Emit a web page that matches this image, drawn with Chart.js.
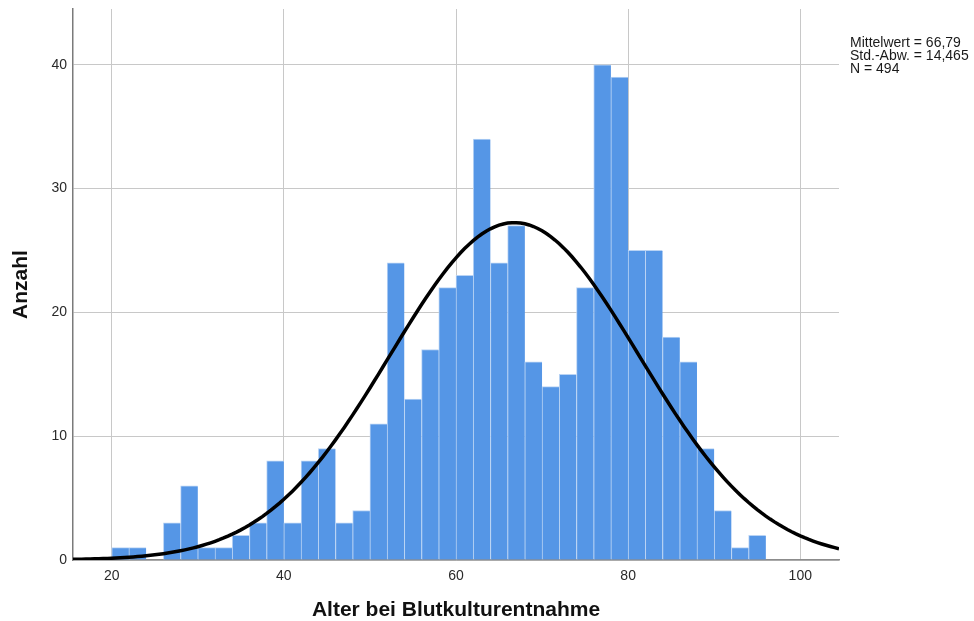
<!DOCTYPE html>
<html>
<head>
<meta charset="utf-8">
<script src="https://cdn.jsdelivr.net/npm/chart.js@4"></script>
<style>
  html, body { margin: 0; padding: 0; background: #fff; }
  #wrap { width: 974px; height: 621px; }
</style>
</head>
<body>
<div id="wrap"><canvas id="c" width="974" height="621"></canvas></div>
<script>
// Age bins (lower edge, years) and patient counts per bin
const binStarts = [20, 22, 24, 26, 28, 30, 32, 34, 36, 38, 40, 42, 44, 46, 48, 50, 52, 54, 56, 58,
                   60, 62, 64, 66, 68, 70, 72, 74, 76, 78, 80, 82, 84, 86, 88, 90, 92, 94];
const counts    = [1, 1, 0, 3, 6, 1, 1, 2, 3, 8, 3, 8, 9, 3, 4, 11, 24, 13, 17, 22,
                   23, 34, 24, 27, 16, 14, 15, 22, 40, 39, 25, 25, 18, 16, 9, 4, 1, 2];
const binWidth = 2;

// Summary statistics shown next to the plot
const meanAge = 66.79;
const sdAge = 14.465;
const nTotal = 494;
const statLines = ['Mittelwert = 66,79', 'Std.-Abw. = 14,465', 'N = 494'];

// Axis ticks and range
const xTicks = [20, 40, 60, 80, 100];
const yTicks = [0, 10, 20, 30, 40];
const xMin = 15.5, xMax = 104.5;
const yMax = 44.5;

const barData = binStarts.map((s, i) => ({ x: s + binWidth / 2, y: counts[i] }));

// Fitted normal curve scaled to counts per bin
const curveData = [];
for (let x = xMin; x <= xMax + 1e-9; x += 0.5) {
  const z = (x - meanAge) / sdAge;
  const y = nTotal * binWidth / (sdAge * Math.sqrt(2 * Math.PI)) * Math.exp(-0.5 * z * z);
  curveData.push({ x: x, y: y });
}

const FONT = '"Liberation Sans", Arial, Helvetica, sans-serif';

const statsText = {
  id: 'statsText',
  afterDraw(chart) {
    const ctx = chart.ctx;
    ctx.save();
    ctx.font = '14px ' + FONT;
    ctx.fillStyle = '#1a1a1a';
    ctx.textAlign = 'left';
    ctx.textBaseline = 'middle';
    statLines.forEach((t, i) => ctx.fillText(t, 850, 43.5 + i * 12.8));
    ctx.restore();
  }
};

new Chart(document.getElementById('c'), {
  type: 'bar',
  data: {
    datasets: [
      {
        type: 'line',
        data: curveData,
        borderColor: '#000',
        borderWidth: 3.5,
        pointRadius: 0,
        tension: 0,
        fill: false,
        order: 0
      },
      {
        type: 'bar',
        data: barData,
        backgroundColor: '#5596e6',
        borderColor: '#b9d3f4',
        borderWidth: { left: 1, top: 1, right: 0, bottom: 0 },
        borderSkipped: false,
        barPercentage: 1,
        categoryPercentage: 1,
        order: 1
      }
    ]
  },
  options: {
    responsive: false,
    animation: false,
    devicePixelRatio: 1,
    layout: { padding: { left: 0, right: 135, top: 9, bottom: 0 } },
    plugins: { legend: { display: false }, tooltip: { enabled: false } },
    scales: {
      x: {
        type: 'linear',
        min: xMin,
        max: xMax,
        offset: false,
        afterFit(scale) { scale.height = 61; },
        afterBuildTicks(scale) { scale.ticks = xTicks.map(v => ({ value: v })); },
        grid: { color: '#c8c8c8', lineWidth: 1, drawTicks: false, offset: false },
        border: { color: '#8c8c8c', width: 1.5 },
        ticks: {
          padding: 8,
          color: '#2a2a2a',
          font: { family: FONT, size: 14 },
          maxRotation: 0
        },
        title: {
          display: true,
          text: 'Alter bei Blutkulturentnahme',
          color: '#111',
          font: { family: FONT, size: 21, weight: 'bold', lineHeight: 1 },
          padding: { top: 0, bottom: 0 }
        }
      },
      y: {
        min: 0,
        max: yMax,
        afterFit(scale) {
          scale.width = 73;
          scale.paddingTop = 0;
          scale.paddingBottom = 0;
        },
        afterBuildTicks(scale) { scale.ticks = yTicks.map(v => ({ value: v })); },
        grid: { color: '#c8c8c8', lineWidth: 1, drawTicks: false },
        border: { color: '#7a7a7a', width: 1.5 },
        ticks: {
          padding: 6,
          color: '#2a2a2a',
          font: { family: FONT, size: 14 }
        },
        title: {
          display: true,
          text: 'Anzahl',
          color: '#111',
          font: { family: FONT, size: 21, weight: 'bold', lineHeight: 1 },
          padding: { top: 11, bottom: 0 }
        }
      }
    }
  },
  plugins: [statsText]
});
</script>
</body>
</html>
